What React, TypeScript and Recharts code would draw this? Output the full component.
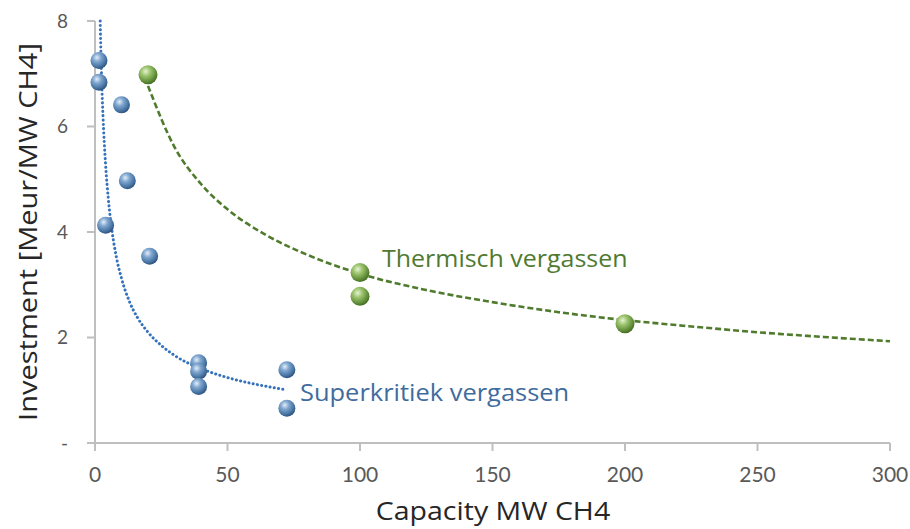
import React from 'react';
import { ScatterChart, Scatter, XAxis, YAxis } from 'recharts';

// Superkritiek vergassen: measured plants
const superX = [1.5, 1.5, 10, 12.2, 4, 20.6, 39.1, 39.1, 39.1, 72.4, 72.4];
const superY = [7.25, 6.84, 6.41, 4.97, 4.13, 3.54, 1.52, 1.36, 1.07, 1.39, 0.66];

// Thermisch vergassen: measured plants
const thermX = [20, 100, 100, 200];
const thermY = [6.98, 3.23, 2.78, 2.26];

// trendlines (power fit) as drawn
const superTrendX = [1.95, 2.5, 3, 4, 5, 6.5, 8, 10, 13, 16, 20, 25, 30, 40, 50, 60, 72];
const superTrendY = [8.0, 6.89, 6.21, 5.27, 4.64, 3.99, 3.54, 3.12, 2.68, 2.38, 2.1, 1.85, 1.66, 1.41, 1.24, 1.12, 1.01];
const thermTrendX = [20, 30, 40, 50, 65, 80, 100, 125, 150, 175, 200, 225, 250, 275, 300];
const thermTrendY = [6.77, 5.61, 4.91, 4.43, 3.93, 3.57, 3.21, 2.9, 2.67, 2.48, 2.33, 2.21, 2.1, 2.01, 1.93];

const xTicks = [0, 50, 100, 150, 200, 250, 300];
const yTicks = [0, 2, 4, 6, 8];

const zip = (xs: number[], ys: number[]) => xs.map((x, i) => ({ x, y: ys[i] }));

const superPoints = zip(superX, superY);
const thermPoints = zip(thermX, thermY);
const superTrend = zip(superTrendX, superTrendY);
const thermTrend = zip(thermTrendX, thermTrendY);

const tickFont = 'Lato, sans-serif';
const labelFont = '"Open Sans", sans-serif';
const axisGray = '#bfbfbf';
const tickColor = '#595959';

const Ball = (fill: string, r: number) => (props: any) => {
  const { cx, cy } = props;
  if (cx == null || cy == null) return null;
  return <circle cx={cx} cy={cy} r={r} fill={`url(#${fill})`} />;
};

const NoDot = () => null;

export default function App() {
  return (
    <div style={{ position: 'relative', width: 910, height: 529, background: '#fff', fontFamily: labelFont }}>
      <style>{`body{margin:0;overflow:hidden}`}</style>
      <ScatterChart width={910} height={529} margin={{ top: 21, right: 20, left: 35, bottom: 46 }}>
        <defs>
          <radialGradient id="blueBall" cx="38%" cy="32%" r="70%">
            <stop offset="0%" stopColor="#e3edf8" />
            <stop offset="35%" stopColor="#7fa6cf" />
            <stop offset="80%" stopColor="#43709f" />
            <stop offset="100%" stopColor="#2b4f7a" />
          </radialGradient>
          <radialGradient id="greenBall" cx="38%" cy="32%" r="70%">
            <stop offset="0%" stopColor="#e6f2d4" />
            <stop offset="35%" stopColor="#9cc46e" />
            <stop offset="80%" stopColor="#5d8a35" />
            <stop offset="100%" stopColor="#436a22" />
          </radialGradient>
        </defs>
        <XAxis
          type="number"
          dataKey="x"
          domain={[0, 300]}
          ticks={xTicks}
          height={40}
          tickSize={8}
          tickMargin={16}
          axisLine={{ stroke: axisGray, strokeWidth: 2 }}
          tickLine={{ stroke: axisGray, strokeWidth: 2 }}
          tick={{ fill: tickColor, fontSize: 21, fontFamily: tickFont }}
        />
        <YAxis
          type="number"
          dataKey="y"
          domain={[0, 8]}
          ticks={yTicks}
          width={60}
          tickSize={8}
          tickMargin={19}
          tickFormatter={(v: number) => (v === 0 ? '-' : String(v))}
          axisLine={{ stroke: axisGray, strokeWidth: 2 }}
          tickLine={{ stroke: axisGray, strokeWidth: 2 }}
          tick={{ fill: tickColor, fontSize: 19, fontFamily: tickFont }}
        />
        <Scatter
          data={superTrend}
          shape={NoDot}
          line={{ stroke: '#3572bd', strokeWidth: 3, strokeDasharray: '0.1 4.2', strokeLinecap: 'round' }}
          lineJointType="monotoneX"
          isAnimationActive={false}
        />
        <Scatter
          data={thermTrend}
          shape={NoDot}
          line={{ stroke: '#4f7b2c', strokeWidth: 2.6, strokeDasharray: '6 3' }}
          lineJointType="monotoneX"
          isAnimationActive={false}
        />
        <Scatter data={superPoints} shape={Ball('blueBall', 8.5)} isAnimationActive={false} />
        <Scatter data={thermPoints} shape={Ball('greenBall', 9.5)} isAnimationActive={false} />
      </ScatterChart>

      <div style={{ position: 'absolute', left: 382, top: 258, transform: 'translateY(-50%) scaleX(1.04)', transformOrigin: '0 50%', color: '#4f7a30', fontSize: 24, lineHeight: '30px', whiteSpace: 'nowrap' }}>
        Thermisch vergassen
      </div>
      <div style={{ position: 'absolute', left: 300, top: 392, transform: 'translateY(-50%) scaleX(1.06)', transformOrigin: '0 50%', color: '#3f6c9d', fontSize: 24, lineHeight: '30px', whiteSpace: 'nowrap' }}>
        Superkritiek vergassen
      </div>
      <div style={{ position: 'absolute', left: 493, top: 510, transform: 'translate(-50%, -50%) scaleX(1.14)', color: '#262626', fontSize: 25, lineHeight: '30px', whiteSpace: 'nowrap' }}>
        Capacity MW CH4
      </div>
      <div style={{ position: 'absolute', left: 27, top: 232, transform: 'translate(-50%, -50%) rotate(-90deg) scaleX(1.16)', color: '#262626', fontSize: 25, lineHeight: '30px', whiteSpace: 'nowrap' }}>
        Investment [Meur/MW CH4]
      </div>
    </div>
  );
}
